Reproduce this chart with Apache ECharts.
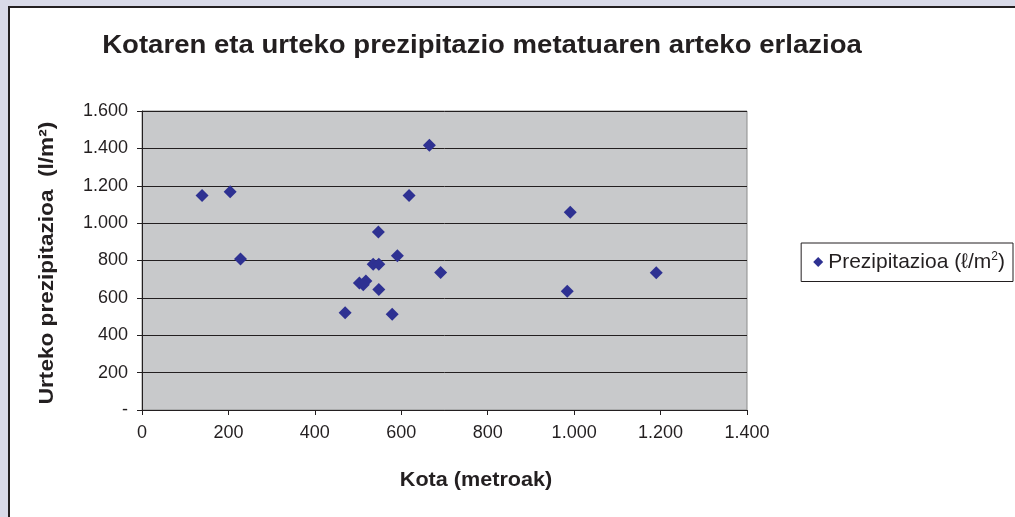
<!DOCTYPE html>
<html>
<head>
<meta charset="utf-8">
<script src="https://cdn.jsdelivr.net/npm/echarts@6/dist/echarts.min.js"></script>
<style>
html,body{margin:0;padding:0;background:#d9dae8;}
#chart{width:1015px;height:517px;}
</style>
</head>
<body>
<div id="chart"></div>
<script>
// Kota (metroak) — altitude
const kota = [139, 204, 228, 665, 618, 547, 591, 535, 548, 691, 503, 518, 512, 548, 470, 579, 991, 1190, 984];
// Urteko prezipitazioa (l/m²)
const prezipitazioa = [1148, 1168, 808, 1417, 1148, 952, 826, 780, 780, 736, 680, 690, 670, 645, 520, 512, 1058, 734, 636];
const yTicks = [0, 200, 400, 600, 800, 1000, 1200, 1400, 1600];
const xTicks = [0, 200, 400, 600, 800, 1000, 1200, 1400];

const titleText = 'Kotaren eta urteko prezipitazio metatuaren arteko erlazioa';
const xName = 'Kota (metroak)';
const yName = 'Urteko prezipitazioa  (l/m²)';
const seriesName = 'Prezipitazioa (ℓ/m²)';

function thousands(v) {
  const s = String(v);
  return s.length > 3 ? s.slice(0, s.length - 3) + '.' + s.slice(-3) : s;
}
function fmtY(v) { return v === 0 ? '-' : thousands(v); }
function fmtX(v) { return thousands(v); }

const FONT = '"Liberation Sans", Arial, sans-serif';
const INK = '#231f20';
const chart = echarts.init(document.getElementById('chart'));
chart.setOption({
  backgroundColor: '#d9dae8',
  animation: false,
  graphic: [
    { type: 'rect', z: -10, shape: { x: 9, y: 7, width: 1020, height: 520 },
      style: { fill: '#ffffff', stroke: INK, lineWidth: 2 } },
    { type: 'text', x: 482, y: 46, scaleX: 1.06, z: 10,
      style: { text: titleText, font: 'bold 26px ' + FONT, fill: INK, textAlign: 'center', textVerticalAlign: 'middle' } },
    { type: 'text', x: 476, y: 480, scaleX: 1.08, z: 10,
      style: { text: xName, font: 'bold 20px ' + FONT, fill: INK, textAlign: 'center', textVerticalAlign: 'middle' } },
    { type: 'text', x: 47, y: 263, rotation: Math.PI / 2, scaleX: 1.13, z: 10,
      style: { text: yName, font: 'bold 20px ' + FONT, fill: INK, textAlign: 'center', textVerticalAlign: 'middle' } }
  ],
  grid: {
    left: 142, right: 268, top: 111, bottom: 107,
    show: true, backgroundColor: '#c8c9cb', borderColor: '#8c8c8c', borderWidth: 1
  },
  legend: {
    right: 2, top: 243,
    orient: 'vertical',
    padding: [8, 8, 9, 12],
    borderColor: INK, borderWidth: 1,
    backgroundColor: '#ffffff',
    itemWidth: 10, itemHeight: 10, itemGap: 4,
    formatter: function () { return 'Prezipitazioa (ℓ/m{sup|2})'; },
    textStyle: {
      fontFamily: FONT, fontSize: 21, color: INK,
      rich: { sup: { fontFamily: FONT, fontSize: 12, color: INK, verticalAlign: 'top', padding: [0, 0, 10, 0] } }
    },
    itemStyle: { opacity: 1 },
    data: [{ name: seriesName, icon: 'diamond' }]
  },
  xAxis: {
    type: 'value', min: 0, max: 1400, interval: 200,
    axisLine: { show: true, onZero: false, lineStyle: { color: INK, width: 1 } },
    axisTick: { show: true, length: 5, lineStyle: { color: INK } },
    axisLabel: { fontFamily: FONT, fontSize: 18, color: INK, margin: 14, formatter: fmtX },
    splitLine: { show: false }
  },
  yAxis: {
    type: 'value', min: 0, max: 1600, interval: 200,
    axisLine: { show: true, onZero: false, lineStyle: { color: INK, width: 1 } },
    axisTick: { show: true, length: 5, lineStyle: { color: INK } },
    axisLabel: { fontFamily: FONT, fontSize: 18, color: INK, margin: 14, formatter: fmtY },
    splitLine: { show: true, lineStyle: { color: INK, width: 1 } }
  },
  series: [{
    name: seriesName,
    type: 'scatter',
    symbol: 'diamond',
    symbolSize: 13,
    itemStyle: { color: '#2e3192', opacity: 1 },
    data: kota.map((x, i) => [x, prezipitazioa[i]])
  }]
});
</script>
</body>
</html>
